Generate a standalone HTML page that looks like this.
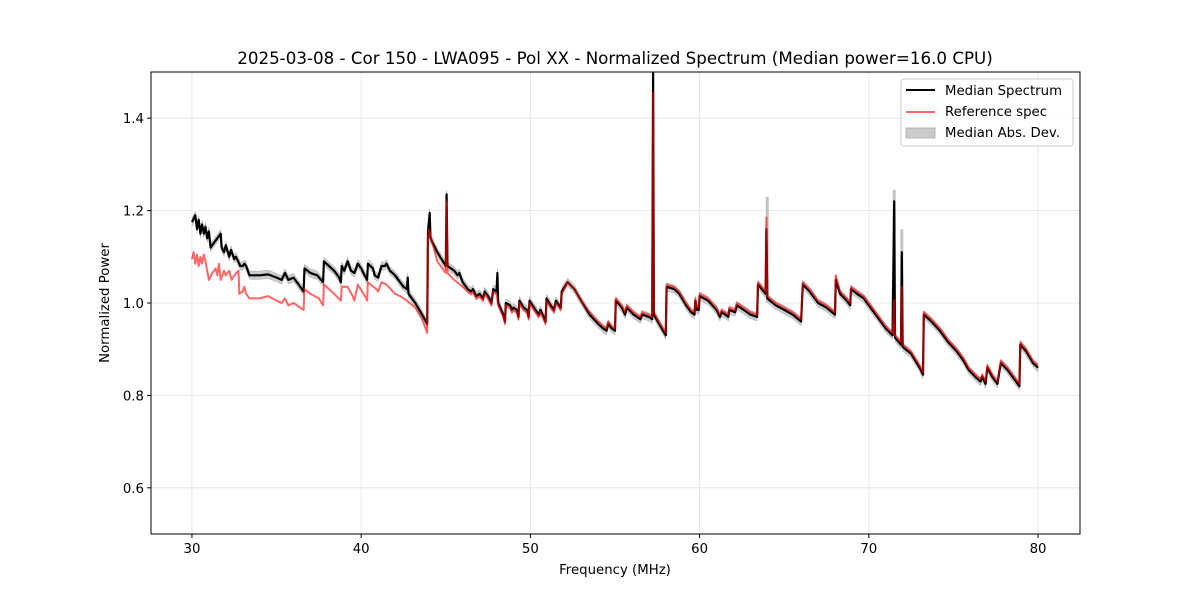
<!DOCTYPE html>
<html><head><meta charset="utf-8"><style>
body{margin:0;background:#fff;}
svg{display:block;font-family:"DejaVu Sans","Liberation Sans",sans-serif;}
</style></head><body>
<svg id="chart" width="1200" height="600" viewBox="0 0 1200 600" xmlns="http://www.w3.org/2000/svg">
<rect width="1200" height="600" fill="#fff"/>
<text x="615" y="64" text-anchor="middle" font-size="16.7">2025-03-08 - Cor 150 - LWA095 - Pol XX - Normalized Spectrum (Median power=16.0 CPU)</text>
<g id="grid"></g>
<g id="plot"></g>
<rect x="151" y="72" width="929" height="462" fill="none" stroke="#000" stroke-width="1"/>
<g id="ticks"></g>
<text x="615" y="574" text-anchor="middle" font-size="13.3">Frequency (MHz)</text>
<text transform="translate(109,303) rotate(-90)" text-anchor="middle" font-size="13.3">Normalized Power</text>
<g>
<rect x="901" y="79" width="172" height="67" rx="3" fill="#fff" fill-opacity="0.8" stroke="#ccc"/>
<line x1="906" y1="90" x2="935" y2="90" stroke="#000" stroke-width="2"/>
<text x="945" y="95" font-size="13.3">Median Spectrum</text>
<line x1="906" y1="112" x2="935" y2="112" stroke="#ff6666" stroke-width="2"/>
<text x="945" y="116" font-size="13.3">Reference spec</text>
<rect x="906" y="128" width="29" height="10" fill="#cccccc" stroke="#aaa" stroke-width="0.8"/>
<text x="945" y="137" font-size="13.3">Median Abs. Dev.</text>
</g>
</svg>
<script>
const xTicks=[30,40,50,60,70,80];
const yTicks=[0.6,0.8,1.0,1.2,1.4];
const yTickLabels=["0.6","0.8","1.0","1.2","1.4"];
const medFreq=[30.0,30.2,30.3,30.4,30.5,30.6,30.7,30.8,30.9,31.0,31.1,31.3,31.5,31.7,31.75,31.9,32.0,32.2,32.3,32.5,32.6,32.8,32.85,33.0,33.1,33.2,33.4,34.0,34.5,35.0,35.3,35.5,35.7,36.0,36.3,36.6,36.65,37.0,37.4,37.75,37.8,38.1,38.4,38.7,38.8,38.85,39.0,39.2,39.4,39.6,39.8,40.0,40.2,40.35,40.4,40.7,40.8,41.0,41.2,41.4,41.5,41.7,42.0,42.3,42.5,42.7,42.75,42.8,43.2,43.6,43.9,43.95,44.05,44.1,44.5,45.0,45.05,45.1,45.5,45.7,45.8,46.0,46.3,46.5,46.6,46.8,47.0,47.2,47.3,47.5,47.7,47.8,48.0,48.05,48.1,48.4,48.5,48.55,48.8,48.9,49.0,49.2,49.3,49.35,49.6,49.8,49.9,49.95,50.3,50.5,50.6,50.9,50.95,51.2,51.4,51.5,51.8,51.85,52.2,52.6,53.0,53.5,54.0,54.3,54.5,54.6,54.8,55.0,55.05,55.4,55.6,55.7,56.1,56.5,56.6,57.0,57.2,57.25,57.3,57.6,58.0,58.05,58.5,58.8,59.2,59.5,59.7,59.75,59.85,59.95,60.0,60.5,61.0,61.2,61.3,61.7,61.75,62.1,62.2,62.6,63.0,63.4,63.45,63.9,63.95,64.0,64.5,65.0,65.5,66.0,66.1,66.5,67.0,67.5,68.0,68.05,68.3,68.7,68.9,68.95,69.3,69.7,70.0,70.5,71.0,71.4,71.5,71.55,71.9,71.95,72.0,72.5,73.0,73.2,73.25,73.7,74.2,74.7,75.2,75.6,75.9,76.3,76.6,76.7,76.9,77.0,77.3,77.6,77.8,78.2,78.6,78.9,78.95,79.3,79.7,80.0];
const medPower=[1.175,1.19,1.16,1.18,1.15,1.17,1.15,1.165,1.14,1.155,1.12,1.13,1.14,1.15,1.12,1.11,1.125,1.10,1.115,1.095,1.10,1.085,1.08,1.08,1.085,1.08,1.06,1.06,1.062,1.055,1.05,1.065,1.05,1.055,1.04,1.025,1.075,1.065,1.06,1.045,1.09,1.08,1.07,1.055,1.045,1.08,1.07,1.09,1.07,1.065,1.085,1.075,1.06,1.05,1.085,1.075,1.06,1.055,1.08,1.08,1.085,1.07,1.06,1.045,1.035,1.03,1.055,1.02,1.00,0.975,0.955,1.155,1.195,1.14,1.11,1.08,1.235,1.08,1.07,1.06,1.065,1.045,1.03,1.025,1.03,1.015,1.02,1.01,1.025,1.015,1.00,1.03,1.025,1.065,1.00,0.975,0.96,1.00,0.995,0.985,0.99,0.985,0.97,1.005,0.99,0.985,0.97,1.005,0.985,0.975,0.985,0.96,1.01,0.995,0.985,1.005,0.99,1.025,1.045,1.03,1.005,0.975,0.955,0.945,0.94,0.955,0.945,0.94,1.005,0.99,0.975,0.99,0.975,0.965,0.975,0.97,0.965,1.5,0.975,0.955,0.93,1.035,1.03,1.02,0.995,0.98,0.975,1.005,0.985,0.985,1.015,1.005,0.985,0.97,0.98,0.97,0.985,0.98,0.995,0.985,0.975,0.97,1.04,1.02,1.16,1.01,0.995,0.985,0.975,0.96,1.04,1.025,1.0,0.99,0.975,1.05,1.02,1.005,0.995,1.03,1.02,1.01,0.995,0.97,0.945,0.93,1.22,0.925,0.91,1.11,0.905,0.89,0.86,0.845,0.975,0.96,0.94,0.915,0.895,0.875,0.855,0.84,0.83,0.84,0.825,0.86,0.84,0.825,0.87,0.855,0.835,0.82,0.91,0.895,0.87,0.86];
const refFreq=[30.0,30.1,30.2,30.3,30.4,30.5,30.6,30.7,30.8,30.9,31.0,31.2,31.4,31.5,31.6,31.7,31.9,32.0,32.2,32.35,32.5,32.75,32.8,33.0,33.1,33.2,33.4,34.0,34.5,35.0,35.3,35.5,35.7,36.0,36.6,36.65,37.0,37.5,37.75,37.8,38.4,38.8,38.85,39.2,39.5,39.6,39.8,40.3,40.35,40.4,40.9,41.0,41.2,41.5,42.0,42.3,42.7,43.2,43.6,43.9,43.95,44.0,44.5,45.0,45.05,45.1,45.5,46.0,46.3,46.5,46.6,46.8,47.0,47.2,47.3,47.5,47.7,47.8,48.0,48.1,48.4,48.5,48.55,48.8,48.9,49.0,49.2,49.3,49.35,49.6,49.8,49.9,49.95,50.3,50.5,50.6,50.9,50.95,51.2,51.4,51.5,51.8,51.85,52.2,52.6,53.0,53.5,54.0,54.3,54.5,54.6,54.8,55.0,55.05,55.4,55.6,55.7,56.1,56.5,56.6,57.0,57.2,57.25,57.3,57.6,58.0,58.05,58.5,58.8,59.2,59.5,59.7,59.75,59.85,59.95,60.0,60.5,61.0,61.2,61.3,61.7,61.75,62.1,62.2,62.6,63.0,63.4,63.45,63.9,63.95,64.0,64.5,65.0,65.5,66.0,66.1,66.5,67.0,67.5,68.0,68.05,68.3,68.7,68.9,68.95,69.3,69.7,70.0,70.5,71.0,71.4,71.5,71.55,71.9,71.95,72.0,72.5,73.0,73.2,73.25,73.7,74.2,74.7,75.2,75.6,75.9,76.3,76.6,76.7,76.9,77.0,77.3,77.6,77.8,78.2,78.6,78.9,78.95,79.3,79.7,80.0];
const refPower=[1.095,1.11,1.085,1.105,1.08,1.10,1.085,1.105,1.09,1.07,1.05,1.065,1.075,1.06,1.085,1.05,1.07,1.06,1.07,1.05,1.06,1.07,1.02,1.025,1.035,1.02,1.01,1.01,1.015,1.005,1.0,1.01,0.995,1.0,0.985,1.03,1.02,1.01,0.995,1.04,1.02,1.005,1.035,1.035,1.015,1.005,1.04,1.01,1.005,1.045,1.03,1.025,1.045,1.04,1.02,1.015,1.005,0.99,0.965,0.935,1.14,1.16,1.09,1.065,1.22,1.065,1.05,1.035,1.025,1.02,1.025,1.01,1.015,1.005,1.02,1.01,0.995,1.025,1.02,0.995,0.97,0.955,0.995,0.99,0.98,0.985,0.98,0.965,1.0,0.985,0.98,0.965,1.0,0.98,0.97,0.98,0.955,1.005,0.99,0.98,1.0,0.985,1.02,1.045,1.03,1.005,0.98,0.96,0.95,0.945,0.96,0.95,0.945,1.01,0.995,0.98,0.995,0.98,0.97,0.98,0.975,0.97,1.455,0.98,0.96,0.935,1.04,1.035,1.025,1.0,0.985,0.98,1.01,0.99,0.99,1.02,1.01,0.99,0.975,0.985,0.975,0.99,0.985,1.0,0.99,0.98,0.975,1.045,1.025,1.185,1.015,1.0,0.99,0.98,0.965,1.045,1.03,1.005,0.995,0.98,1.06,1.025,1.01,1.0,1.035,1.025,1.015,1.0,0.975,0.95,0.935,1.007,0.93,0.915,1.035,0.91,0.895,0.865,0.85,0.98,0.965,0.945,0.92,0.9,0.88,0.86,0.845,0.835,0.845,0.83,0.865,0.845,0.83,0.875,0.86,0.84,0.825,0.915,0.9,0.875,0.865];
const madLevel=0.009;
const madSpikeFreq=[64.0,71.5,71.95];
const madSpikeTop=[1.23,1.245,1.16];

const NS="http://www.w3.org/2000/svg";
const L=151,R=1080,T=72,B=534,x0=27.58,x1=82.48,y0=0.5,y1=1.5;
const sx=f=>L+(f-x0)/(x1-x0)*(R-L);
const sy=p=>B-(p-y0)/(y1-y0)*(B-T);
function mk(tag,attrs,parent){const e=document.createElementNS(NS,tag);for(const k in attrs)e.setAttribute(k,attrs[k]);parent.appendChild(e);return e;}
const grid=document.getElementById('grid'),plot=document.getElementById('plot'),ticks=document.getElementById('ticks');
xTicks.forEach(t=>{
  const g=mk('line',{x1:sx(t),x2:sx(t),y1:T,y2:B,stroke:'#e3e3e3','stroke-width':0.8},grid);
  
  
  const tk=mk('line',{x1:sx(t),x2:sx(t),y1:B,y2:B+4,stroke:'#000'},ticks);
  
  
  const lb=mk('text',{x:sx(t),y:B+19,'text-anchor':'middle','font-size':13.3},ticks);lb.textContent=t;
  
  
});
yTicks.forEach((t,i)=>{
  const g=mk('line',{x1:L,x2:R,y1:sy(t),y2:sy(t),stroke:'#e3e3e3','stroke-width':0.8},grid);
  
  
  const tk=mk('line',{x1:L-4,x2:L,y1:sy(t),y2:sy(t),stroke:'#000'},ticks);
  
  
  const lb=mk('text',{x:L-7,y:sy(t)+5,'text-anchor':'end','font-size':13.3},ticks);lb.textContent=yTickLabels[i];
  
  
});
const clip=mk('clipPath',{id:'pc'},plot);mk('rect',{x:L,y:T,width:R-L,height:B-T},clip);
const pg=mk('g',{'clip-path':'url(#pc)'},plot);
let up=medFreq.map((f,i)=>sx(f).toFixed(1)+','+sy(medPower[i]+madLevel).toFixed(1));
let dn=medFreq.map((f,i)=>sx(f).toFixed(1)+','+sy(medPower[i]-madLevel).toFixed(1)).reverse();
const band=mk('polygon',{points:up.concat(dn).join(' '),fill:'#bbbbbb','fill-opacity':0.75,stroke:'#aaa','stroke-width':0.5},pg);


madSpikeFreq.forEach((f,i)=>{
  const s=mk('line',{x1:sx(f),x2:sx(f),y1:sy(madSpikeTop[i]),y2:sy(1.0),stroke:'#c4c4c4','stroke-width':3},pg);
  
  
});
const med=mk('polyline',{points:medFreq.map((f,i)=>sx(f).toFixed(1)+','+sy(medPower[i]).toFixed(1)).join(' '),fill:'none',stroke:'#000','stroke-width':2.2,'stroke-linejoin':'round'},pg);


const ref=mk('polyline',{points:refFreq.map((f,i)=>sx(f).toFixed(1)+','+sy(refPower[i]).toFixed(1)).join(' '),fill:'none',stroke:'rgba(255,0,0,0.6)','stroke-width':2,'stroke-linejoin':'round'},pg);


</script>
</body></html>
